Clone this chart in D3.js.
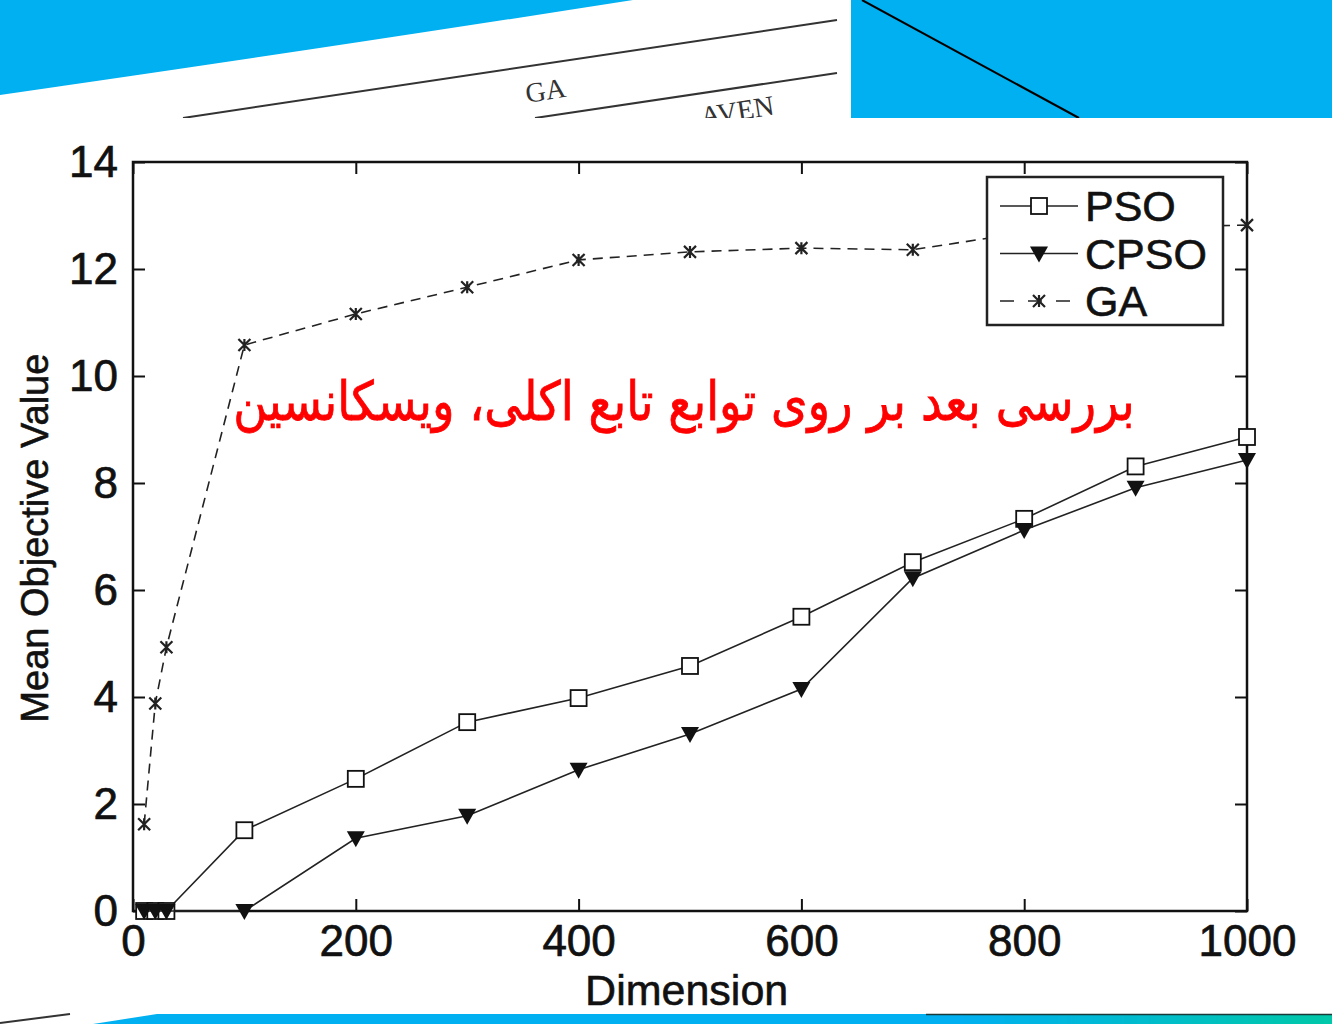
<!DOCTYPE html>
<html>
<head>
<meta charset="utf-8">
<script src="https://cdn.jsdelivr.net/npm/d3@7"></script>
<style>
  body { margin: 0; background: #fff; }
  svg { display: block; }
  .axis path { display: none; }
  .axis line { stroke: #111; stroke-width: 2; }
  .axis text { font-family: "Liberation Sans", Arial, sans-serif; font-size: 44px; fill: #111; stroke: #111; stroke-width: 0.7; }
</style>
</head>
<body>
<svg id="graph" width="1332" height="1024"></svg>
<script>
"use strict";

// data
var dimensions = [10, 20, 30, 100, 200, 300, 400, 500, 600, 700, 800, 900, 1000];
var psoValues  = [0, 0, 0, 1.51, 2.47, 3.53, 3.98, 4.58, 5.50, 6.52, 7.33, 8.31, 8.86];
var cpsoValues = [0, 0, 0, 0, 1.36, 1.78, 2.64, 3.31, 4.15, 6.22, 7.12, 7.91, 8.43];
var gaValues   = [1.62, 3.88, 4.93, 10.58, 11.16, 11.66, 12.17, 12.32, 12.39, 12.36, 12.68, 12.78, 12.82];
var seriesNames = ["PSO", "CPSO", "GA"];
var xTicks = [0, 200, 400, 600, 800, 1000];
var yTicks = [0, 2, 4, 6, 8, 10, 12, 14];
var xLabel = "Dimension";
var yLabel = "Mean Objective Value";
var overlayText = "بررسی بعد بر روی توابع تابع اکلی، ویسکانسین";

var svg = d3.select("#graph");
var blue = "#00B0F0";
var font = "'Liberation Sans', Arial, sans-serif";

// ---- slide decoration around the chart picture ----
var deco = svg.append("g");
deco.append("path")
  .attr("d", "M0,0 L633,0 Q300,52 0,95 Z")
  .attr("fill", blue);
deco.append("rect")
  .attr("x", 851).attr("y", 0).attr("width", 481).attr("height", 118)
  .attr("fill", blue);
deco.append("line")
  .attr("x1", 862).attr("y1", 0).attr("x2", 1079).attr("y2", 118)
  .attr("stroke", "#000").attr("stroke-width", 2);

// piece of another figure peeking out above
deco.append("line")
  .attr("x1", 183).attr("y1", 118).attr("x2", 837).attr("y2", 20)
  .attr("stroke", "#333").attr("stroke-width", 2);
deco.append("line")
  .attr("x1", 535).attr("y1", 118).attr("x2", 837).attr("y2", 73)
  .attr("stroke", "#333").attr("stroke-width", 2);
deco.append("text")
  .attr("transform", "translate(527,103) rotate(-9)")
  .attr("font-family", "'Liberation Serif', serif")
  .attr("font-size", 28).attr("fill", "#333")
  .text("GA");
deco.append("text")
  .attr("transform", "translate(702,126) rotate(-9)")
  .attr("font-family", "'Liberation Serif', serif")
  .attr("font-size", 28).attr("fill", "#333")
  .text("AVEN");
// white sheet for the chart (also clips the peeking text)
deco.append("rect")
  .attr("x", 0).attr("y", 118).attr("width", 1332).attr("height", 896)
  .attr("fill", "#fff");

var defs = svg.append("defs");
var grad = defs.append("linearGradient").attr("id", "bandGrad")
  .attr("x1", "0%").attr("x2", "100%");
grad.append("stop").attr("offset", "0%").attr("stop-color", blue);
grad.append("stop").attr("offset", "70%").attr("stop-color", blue);
grad.append("stop").attr("offset", "100%").attr("stop-color", "#00C8A8");

deco.append("path")
  .attr("d", "M157,1014 L1332,1014 L1332,1024 L93,1024 Z")
  .attr("fill", "url(#bandGrad)");
deco.append("line")
  .attr("x1", 926).attr("y1", 1014.5).attr("x2", 1332).attr("y2", 1014.5)
  .attr("stroke", "#1a3a3a").attr("stroke-width", 1.5);
deco.append("line")
  .attr("x1", 0).attr("y1", 1023).attr("x2", 70).attr("y2", 1014)
  .attr("stroke", "#333").attr("stroke-width", 2);

// ---- chart ----
var margin = {top: 162, right: 85, bottom: 113, left: 133},
    width = 1332 - margin.left - margin.right,
    height = 1024 - margin.top - margin.bottom;

var x = d3.scaleLinear().domain([0, 1000]).range([0, width]),
    y = d3.scaleLinear().domain([0, 14]).range([height, 0]);

var plot = svg.append("g")
  .attr("transform", "translate(" + margin.left + "," + margin.top + ")");

plot.append("g").attr("class", "axis")
  .attr("transform", "translate(0," + height + ")")
  .call(d3.axisBottom(x).tickValues(xTicks).tickSize(-12).tickPadding(14)
    .tickFormat(d3.format("d")));
plot.append("g").attr("class", "axis")
  .call(d3.axisTop(x).tickValues(xTicks).tickSize(-12).tickFormat(""));
plot.append("g").attr("class", "axis")
  .call(d3.axisLeft(y).tickValues(yTicks).tickSize(-12).tickPadding(15));
plot.append("g").attr("class", "axis")
  .attr("transform", "translate(" + width + ",0)")
  .call(d3.axisRight(y).tickValues(yTicks).tickSize(-12).tickFormat(""));

plot.append("rect")
  .attr("width", width).attr("height", height)
  .attr("fill", "none").attr("stroke", "#111").attr("stroke-width", 2.5);

svg.append("text")
  .attr("x", margin.left + x(497)).attr("y", 1005)
  .attr("text-anchor", "middle")
  .attr("font-family", font).attr("font-size", 43).attr("fill", "#111")
  .attr("stroke", "#111").attr("stroke-width", 0.6)
  .text(xLabel);

svg.append("text")
  .attr("transform", "translate(48," + (margin.top + y(6.97)) + ") rotate(-90)")
  .attr("text-anchor", "middle")
  .attr("font-family", font).attr("font-size", 38).attr("fill", "#111")
  .attr("stroke", "#111").attr("stroke-width", 0.6)
  .text(yLabel);

var series = [
  {name: seriesNames[0], values: psoValues, dash: null, marker: "square"},
  {name: seriesNames[1], values: cpsoValues, dash: null, marker: "triangle"},
  {name: seriesNames[2], values: gaValues, dash: "10,7", marker: "star"}
];

function drawMarker(g, type) {
  if (type == "square") {
    g.append("rect")
      .attr("x", -8).attr("y", -8).attr("width", 16).attr("height", 16)
      .attr("fill", "#fff").attr("stroke", "#111").attr("stroke-width", 1.8);
  } else if (type == "triangle") {
    g.append("path")
      .attr("d", "M-9,-7 L9,-7 L0,9 Z")
      .attr("fill", "#111");
  } else {
    g.append("path")
      .attr("d", "M-6,-6 L6,6 M-6,6 L6,-6 M0,-6 L0,6")
      .attr("stroke", "#222").attr("stroke-width", 2.2).attr("fill", "none");
  }
}

var line = d3.line()
  .x((d, i) => x(dimensions[i]))
  .y(d => y(d));

series.forEach(function(s) {
  plot.append("path")
    .datum(s.values)
    .attr("d", line)
    .attr("fill", "none")
    .attr("stroke", "#222")
    .attr("stroke-width", 1.6)
    .attr("stroke-dasharray", s.dash);
  plot.append("g").selectAll("g")
    .data(s.values)
    .join("g")
      .attr("transform", (d, i) => "translate(" + x(dimensions[i]) + "," + y(d) + ")")
      .each(function() { drawMarker(d3.select(this), s.marker); });
});

// legend
var legend = svg.append("g").attr("transform", "translate(987,177)");
legend.append("rect")
  .attr("width", 236).attr("height", 148)
  .attr("fill", "#fff").attr("stroke", "#222").attr("stroke-width", 2.5);
var items = legend.selectAll("g.item")
  .data(series)
  .join("g")
    .attr("class", "item")
    .attr("transform", (d, i) => "translate(0," + (29 + i * 47.5) + ")");
items.append("line")
  .attr("x1", 13).attr("x2", 91)
  .attr("stroke", "#222").attr("stroke-width", 1.6)
  .attr("stroke-dasharray", d => d.dash ? "14,14" : null);
items.append("g")
  .attr("transform", "translate(52,0)")
  .each(function(d) { drawMarker(d3.select(this), d.marker); });
items.append("text")
  .attr("x", 98).attr("y", 15)
  .attr("font-family", font).attr("font-size", 43).attr("fill", "#111")
  .attr("stroke", "#111").attr("stroke-width", 0.6)
  .text(d => d.name);

// red overlay note
var note = svg.append("text")
  .attr("x", 0).attr("y", 0)
  .attr("text-anchor", "middle")
  .attr("direction", "rtl")
  .attr("font-family", "'DejaVu Sans', sans-serif")
  .attr("font-size", 54)
  .attr("fill", "#ff0000")
  .attr("stroke", "#ff0000").attr("stroke-width", 0.8)
  .text(overlayText);
var bb = note.node().getBBox();
var sx = 902 / bb.width;
note.attr("transform", "translate(684,420) scale(" + sx + ",1)");
</script>
</body>
</html>
